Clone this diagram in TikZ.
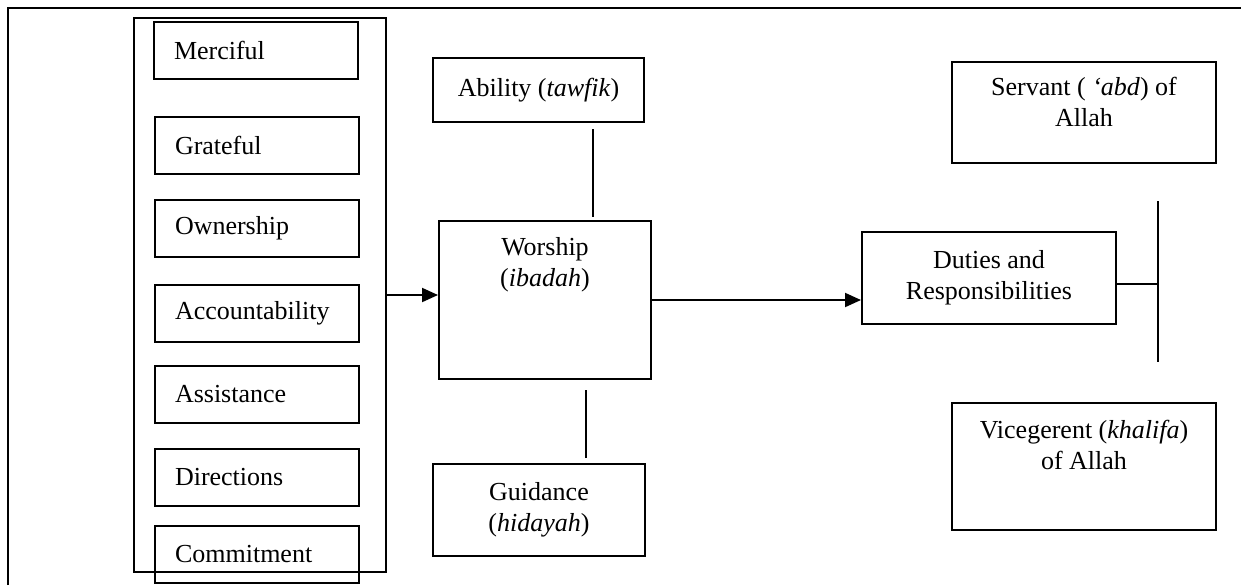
\documentclass[tikz,border=0pt]{standalone}
\usepackage{fontspec}
\setmainfont{Liberation Serif}
\usetikzlibrary{positioning,arrows.meta}
\tikzset{block/.style={draw,line width=1pt,inner xsep=0pt,align=flush center}}
\tikzset{item/.style={draw,line width=1pt,inner xsep=10pt,inner ysep=0pt,text width=82pt,align=flush left,minimum height=28.5pt}}
\tikzset{link/.style={line width=1pt},flow/.style={line width=1pt,-{Triangle[length=8pt,width=7pt]}}}

\begin{document}
\begin{tikzpicture}[x=0.5pt,y=-0.5pt,font=\fontsize{13}{15.5}\selectfont]
\useasboundingbox (0,0) rectangle (1241,585);
\draw[link] (8,585) -- (8,8) -- (1241,8);

\node[draw,line width=1pt,minimum width=126pt,minimum height=277pt] (attrs) at (260,295) {};
\node[item] (merciful) at (256,50.5) {Merciful};
\node[item] (grateful) at (257,145) {Grateful};
\node[item] (ownership) at (257,228.5) {Ownership};
\node[item] (account) at (257,313) {Accountability};
\node[item] (assist) at (257,394) {Assistance};
\node[item] (direct) at (257,477.5) {Directions};
\node[item] (commit) at (257,554.5) {Commitment};

\node[block,text width=105.5pt,minimum height=32pt] (ability) at (538.5,90) {Ability (\textit{tawfik})};
\node[block,text width=106pt,inner ysep=8pt,text height=9pt,text depth=54pt] (worship) at (545,300) {Worship\\(\textit{ibadah})};
\node[block,text width=106pt,minimum height=46pt] (guidance) at (539,510) {Guidance\\(\textit{hidayah})};
\node[block,text width=127pt,minimum height=46pt] (duties) at (989,278) {Duties and\\Responsibilities};
\node[block,text width=132pt,inner ysep=7.5pt,text height=9pt,text depth=26.5pt] (servant) at (1084,112.5) {Servant ( \textit{‘abd}) of\\Allah};
\node[block,text width=132pt,inner ysep=8.5pt,text height=9pt,text depth=37.5pt] (khalifa) at (1084,466.5) {Vicegerent (\textit{khalifa})\\of Allah};

\coordinate (fork) at (1158,284);
\coordinate (forktop) at (1158,201);
\coordinate (forkbot) at (1158,362);

\draw[flow] (attrs.east) -- (attrs.east -| worship.west);
\draw[flow] (worship.east) -- (worship.east -| duties.west);
\draw[link] ([xshift=27pt,yshift=-3pt]ability.south) -- ++(0,88);
\draw[link] ([xshift=23.5pt,yshift=2.5pt]guidance.north) -- ++(0,-68);
\draw[link] ([yshift=-3pt]duties.east) -- (fork);
\draw[link] (forktop) -- (forkbot);
\end{tikzpicture}
\end{document}
